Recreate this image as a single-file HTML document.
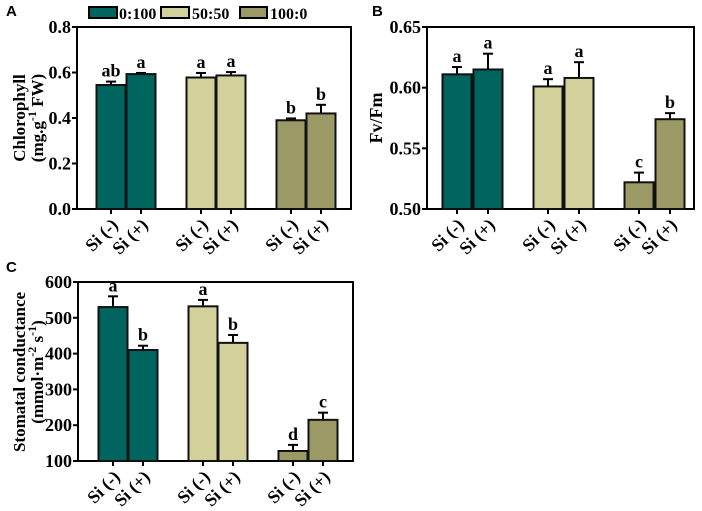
<!DOCTYPE html>
<html><head><meta charset="utf-8">
<style>
html,body{margin:0;padding:0;background:#fff;}
svg{display:block;font-family:"Liberation Serif",serif;}
.tk{font-weight:bold;font-size:18px;}
.pl{font-family:"Liberation Sans",sans-serif;font-weight:bold;font-size:15px;}
</style></head>
<body>
<svg id="fig" width="702" height="511" viewBox="0 0 702 511"></svg>
<script>
// Panel A data
const catsA = ["Si (-)","Si (+)","Si (-)","Si (+)","Si (-)","Si (+)"];
const valsA = [0.545,0.593,0.578,0.587,0.39,0.42];
const errA = [0.015,0.005,0.02,0.015,0.008,0.038];
const letA = ["ab","a","a","a","b","b"];
const ticksA = ["0.0","0.2","0.4","0.6","0.8"];
// Panel B data
const valsB = [0.611,0.615,0.601,0.608,0.522,0.574];
const errB = [0.006,0.013,0.006,0.013,0.008,0.005];
const letB = ["a","a","a","a","c","b"];
const ticksB = ["0.50","0.55","0.60","0.65"];
// Panel C data
const valsC = [530,410,532,430,128,215];
const errC = [30,12,18,22,17,20];
const letC = ["a","b","a","b","d","c"];
const ticksC = ["100","200","300","400","500","600"];

const colors = ["#00655f","#d2d19c","#9b9a66"];
const svg = document.getElementById('fig');
const NS = "http://www.w3.org/2000/svg";
function mk(tag, attrs, parent){const e=document.createElementNS(NS,tag);for(const k in attrs)e.setAttribute(k,attrs[k]);(parent||svg).appendChild(e);return e;}

function panel(cfg, vals, errs, lets, ticks, name){
  const g = mk('g',{});
  
  
  const ymin = parseFloat(ticks[0]), ymax = parseFloat(ticks[ticks.length-1]);
  const y = v => cfg.bottom - (v - ymin)/(ymax - ymin)*(cfg.bottom - cfg.top);
  const x = i => cfg.left + cfg.off + Math.floor(i/2)*cfg.gs + (i%2)*cfg.bs;
  const fr = mk('rect',{x:cfg.left,y:cfg.top,width:cfg.right-cfg.left,height:cfg.bottom-cfg.top,fill:'none',stroke:'#000','stroke-width':2},g);
  
  
  ticks.forEach(t=>{
    const v=parseFloat(t), yy=y(v);
    mk('line',{x1:cfg.left-5,x2:cfg.left,y1:yy,y2:yy,stroke:'#000','stroke-width':2},g);
    const tx = mk('text',{x:cfg.left-6,y:yy+6,'text-anchor':'end',class:'tk'},g);
    tx.textContent=t;
    
    
  });
  vals.forEach((v,i)=>{
    const cx=x(i), w=cfg.bw, top=y(v);
    const ey = y(v+errs[i]);
    mk('line',{x1:cx,x2:cx,y1:top,y2:ey,stroke:'#000','stroke-width':2},g);
    mk('line',{x1:cx-5,x2:cx+5,y1:ey,y2:ey,stroke:'#000','stroke-width':2},g);
    const b = mk('rect',{x:cx-w/2,y:top,width:w,height:cfg.bottom-top,fill:colors[Math.floor(i/2)],stroke:'#111','stroke-width':2},g);
    
    
    const lt = mk('text',{x:cx,y:ey-5,'text-anchor':'middle',class:'tk'},g);
    lt.textContent=lets[i];
    
    
    mk('line',{x1:cx,x2:cx,y1:cfg.bottom,y2:cfg.bottom+5,stroke:'#000','stroke-width':2},g);
    const xl = mk('text',{x:cx+8,y:cfg.bottom+17,'text-anchor':'end',class:'tk','font-size':'17px',transform:`rotate(-45 ${cx+8} ${cfg.bottom+17})`},g);
    xl.textContent=catsA[i];
    
    
  });
  return g;
}

panel({left:77,right:351,top:27,bottom:209,off:34,gs:90,bs:30,bw:29}, valsA, errA, letA, ticksA, 'panel-a-chlorophyll');
panel({left:427,right:694,top:27,bottom:209,off:30,gs:91,bs:31,bw:29}, valsB, errB, letB, ticksB, 'panel-b-fvfm');
panel({left:78,right:353,top:282,bottom:461,off:35,gs:90,bs:30,bw:29}, valsC, errC, letC, ticksC, 'panel-c-stomatal');

svg.insertAdjacentHTML('beforeend', `
<text class="pl" x="6" y="16">A</text>
<text class="pl" x="372" y="16">B</text>
<text class="pl" x="6" y="272">C</text>
<g font-weight="bold" font-size="17" text-anchor="middle">
 <text transform="translate(25 118) rotate(-90)">Chlorophyll</text>
 <text transform="translate(43 118) rotate(-90)">(mg.g<tspan dy="-7" font-size="12">-1</tspan><tspan dy="7"> FW)</tspan></text>
</g>
<text font-weight="bold" font-size="18" text-anchor="middle" transform="translate(382 118) rotate(-90)">Fv/Fm</text>
<g font-weight="bold" font-size="17" text-anchor="middle">
 <text transform="translate(25 372) rotate(-90)">Stomatal conductance</text>
 <text transform="translate(43 372) rotate(-90)">(mmol·m<tspan dy="-7" font-size="12">-2</tspan><tspan dy="7"> s</tspan><tspan dy="-7" font-size="12">-1</tspan><tspan dy="7">)</tspan></text>
</g>
<g font-weight="bold" font-size="16">
 <g><rect x="89" y="7" width="28" height="11" fill="#00655f" stroke="#000" stroke-width="2"/><text x="119" y="19">0:100</text></g>
 <g><rect x="161" y="7" width="28" height="11" fill="#d2d19c" stroke="#000" stroke-width="2"/><text x="192" y="19">50:50</text></g>
 <g><rect x="240" y="7" width="27" height="11" fill="#9b9a66" stroke="#000" stroke-width="2"/><text x="270" y="19">100:0</text></g>
</g>`);
</script>
</body></html>
